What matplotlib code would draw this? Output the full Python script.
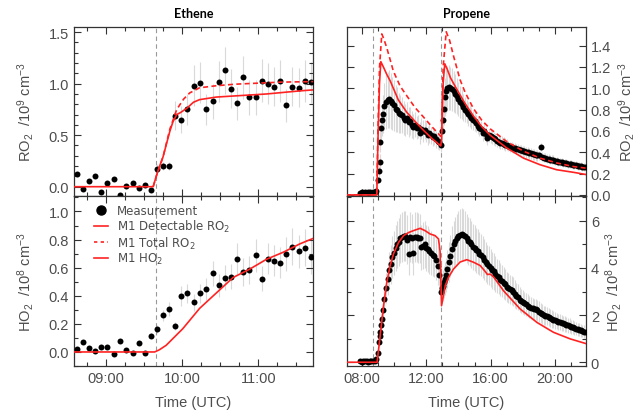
import matplotlib
matplotlib.use("Agg")
import matplotlib.pyplot as plt
from matplotlib.ticker import MultipleLocator, FuncFormatter
from matplotlib.lines import Line2D

plt.rcParams['font.family'] = ['Liberation Sans', 'DejaVu Sans']
plt.rcParams['mathtext.default'] = 'regular'

# ---------------- Ethene (times in decimal hours UTC) ----------------
eth_t = [8.62, 8.70, 8.78, 8.86, 8.94, 9.02, 9.10, 9.18, 9.26, 9.35,
         9.43, 9.51, 9.59, 9.67, 9.75, 9.83, 9.91, 9.99, 10.07, 10.16,
         10.24, 10.32, 10.40, 10.48, 10.56, 10.64, 10.72, 10.80, 10.88, 10.97,
         11.05, 11.13, 11.21, 11.29, 11.37, 11.45, 11.53, 11.61, 11.69]
eth_ro2 = [0.126, -0.02, 0.057, 0.10, -0.05, 0.04, 0.07, -0.085, 0.006, 0.04,
           -0.016, 0.013, -0.03, 0.176, 0.20, 0.20, 0.69, 0.65, 0.75, 0.98,
           1.01, 0.75, 0.83, 1.02, 1.13, 0.95, 0.81, 1.06, 0.87, 0.87,
           1.03, 1.00, 0.97, 1.025, 0.79, 0.97, 0.96, 1.025, 1.015]
eth_ro2_err = [0.01, 0.01, 0.01, 0.01, 0.01, 0.01, 0.01, 0.01, 0.01, 0.01,
               0.01, 0.01, 0.01, 0.04, 0.04, 0.04, 0.14, 0.13, 0.15, 0.20,
               0.20, 0.15, 0.17, 0.20, 0.23, 0.19, 0.16, 0.21, 0.17, 0.17,
               0.21, 0.20, 0.19, 0.20, 0.16, 0.19, 0.19, 0.20, 0.20]
eth_ho2 = [0.02, 0.07, 0.03, 0.007, 0.033, 0.038, -0.017, 0.078, 0.012, -0.01,
           0.062, -0.01, 0.116, 0.163, 0.26, 0.305, 0.185, 0.40, 0.417, 0.353,
           0.417, 0.45, 0.56, 0.474, 0.528, 0.535, 0.664, 0.569, 0.583, 0.687,
           0.521, 0.664, 0.65, 0.635, 0.697, 0.749, 0.716, 0.742, 0.678]
eth_ho2_err = [0.01, 0.01, 0.01, 0.01, 0.01, 0.01, 0.01, 0.01, 0.01, 0.01,
               0.01, 0.01, 0.02, 0.03, 0.04, 0.05, 0.03, 0.07, 0.07, 0.06,
               0.07, 0.08, 0.09, 0.08, 0.09, 0.09, 0.11, 0.10, 0.10, 0.12,
               0.09, 0.11, 0.11, 0.11, 0.12, 0.13, 0.12, 0.13, 0.12]

eth_mod_t = [8.58, 9.62, 9.66, 9.70, 9.75, 9.80, 9.84, 9.88, 9.93, 9.98,
             10.06, 10.15, 10.23, 10.45, 10.67, 11.11, 11.55, 11.73]
eth_mod_ro2 = [0.0, 0.0, 0.10, 0.19, 0.29, 0.43, 0.54, 0.63, 0.70, 0.72,
               0.76, 0.82, 0.845, 0.87, 0.88, 0.90, 0.93, 0.94]
eth_mod_tot_t = [9.62, 9.66, 9.75, 9.84, 9.93, 10.02, 10.10, 10.23, 10.45,
                 10.70, 11.00, 11.30, 11.73]
eth_mod_tot = [0.0, 0.10, 0.29, 0.56, 0.75, 0.85, 0.91, 0.96, 0.98,
               0.995, 1.005, 1.015, 1.02]
eth_mod_ho2_t = [8.58, 9.64, 9.70, 9.79, 10.01, 10.23, 10.41, 10.67, 10.89,
                 11.11, 11.33, 11.55, 11.73]
eth_mod_ho2 = [0.0, 0.0, 0.015, 0.047, 0.166, 0.31, 0.40, 0.53, 0.59,
               0.66, 0.71, 0.77, 0.81]
eth_inject = [9.654]

# ---------------- Propene ----------------
pro_t = [7.9, 8.0, 8.1, 8.2, 8.3, 8.4, 8.5, 8.6, 8.7, 8.8, 8.9,
         9.0, 9.05, 9.1, 9.15, 9.2, 9.25, 9.3,
         9.4, 9.5, 9.6, 9.7, 9.8, 9.9,
         10.0, 10.1, 10.2, 10.3, 10.4, 10.5, 10.6, 10.7, 10.8, 10.9,
         11.0, 11.1, 11.2, 11.3, 11.4, 11.5, 11.6, 11.7, 11.8, 11.9,
         12.0, 12.1, 12.2, 12.3, 12.4, 12.5, 12.6, 12.7, 12.8, 12.9,
         13.0, 13.05, 13.1, 13.15, 13.2,
         13.3, 13.4, 13.5, 13.6, 13.7, 13.8, 13.9,
         14.0, 14.1, 14.2, 14.3, 14.4, 14.5, 14.6, 14.7, 14.8, 14.9,
         15.0, 15.1, 15.2, 15.3, 15.4, 15.5, 15.6, 15.7, 15.8, 15.9,
         16.0, 16.1, 16.2, 16.3, 16.4, 16.5, 16.6, 16.7, 16.8, 16.9,
         17.0, 17.1, 17.2, 17.3, 17.4, 17.5, 17.6, 17.7, 17.8, 17.9,
         18.0, 18.1, 18.2, 18.3, 18.4, 18.5, 18.6, 18.7, 18.8, 18.9,
         19.0, 19.1, 19.2, 19.3, 19.4, 19.5, 19.6, 19.7, 19.8, 19.9,
         20.0, 20.1, 20.2, 20.3, 20.4, 20.5, 20.6, 20.7, 20.8, 20.9,
         21.0, 21.1, 21.2, 21.3, 21.4, 21.5, 21.6, 21.7, 21.8, 21.9]
pro_ro2 = [0.02, 0.03, 0.02, 0.03, 0.02, 0.03, 0.03, 0.02, 0.03, 0.03, 0.04,
           0.14, 0.22, 0.31, 0.50, 0.63, 0.70, 0.76,
           0.83, 0.87, 0.89, 0.90, 0.88, 0.86,
           0.84, 0.81, 0.80, 0.77, 0.76, 0.75, 0.72, 0.70, 0.72, 0.68,
           0.69, 0.66, 0.64, 0.66, 0.63, 0.64, 0.58, 0.62, 0.60, 0.61,
           0.59, 0.56, 0.58, 0.56, 0.54, 0.55, 0.52, 0.51, 0.50, 0.47,
           0.60, 0.70, 0.81, 0.92, 0.97,
           1.00, 1.01, 1.00, 0.99, 0.97, 0.95, 0.93,
           0.90, 0.87, 0.85, 0.82, 0.80, 0.78, 0.76, 0.74, 0.72, 0.70,
           0.69, 0.67, 0.65, 0.63, 0.62, 0.58, 0.60, 0.57, 0.53, 0.56,
           0.55, 0.54, 0.53, 0.52, 0.51, 0.50, 0.49, 0.49, 0.48, 0.47,
           0.47, 0.46, 0.45, 0.45, 0.44, 0.44, 0.43, 0.43, 0.42, 0.42,
           0.41, 0.41, 0.40, 0.40, 0.39, 0.39, 0.38, 0.38, 0.37, 0.37,
           0.37, 0.45, 0.36, 0.35, 0.35, 0.34, 0.34, 0.33, 0.33, 0.33,
           0.32, 0.32, 0.31, 0.31, 0.31, 0.30, 0.30, 0.30, 0.29, 0.29,
           0.29, 0.28, 0.28, 0.28, 0.27, 0.27, 0.27, 0.26, 0.26, 0.26]
pro_ro2_err = [0.0, 0.0, 0.0, 0.0, 0.0, 0.0, 0.0, 0.0, 0.0, 0.0, 0.01,
               0.03, 0.05, 0.07, 0.10, 0.13, 0.15, 0.18,
               0.22, 0.25, 0.26, 0.27, 0.26, 0.25,
               0.24, 0.22, 0.21, 0.19, 0.18, 0.17, 0.16, 0.15, 0.15, 0.14,
               0.13, 0.13, 0.12, 0.12, 0.11, 0.11, 0.10, 0.10, 0.10, 0.09,
               0.09, 0.09, 0.09, 0.08, 0.08, 0.08, 0.08, 0.08, 0.08, 0.07,
               0.10, 0.12, 0.15, 0.18, 0.20,
               0.21, 0.21, 0.20, 0.20, 0.19, 0.18, 0.17,
               0.16, 0.15, 0.14, 0.13, 0.12, 0.11, 0.11, 0.10, 0.10, 0.09,
               0.09, 0.08, 0.08, 0.08, 0.07, 0.07, 0.07, 0.07, 0.06, 0.06,
               0.06, 0.06, 0.06, 0.06, 0.06, 0.06, 0.06, 0.06, 0.06, 0.06,
               0.05, 0.05, 0.05, 0.05, 0.05, 0.05, 0.05, 0.05, 0.05, 0.05,
               0.05, 0.05, 0.05, 0.05, 0.05, 0.05, 0.05, 0.05, 0.05, 0.05,
               0.04, 0.04, 0.04, 0.04, 0.04, 0.04, 0.04, 0.04, 0.04, 0.04,
               0.04, 0.04, 0.04, 0.04, 0.04, 0.04, 0.04, 0.04, 0.04, 0.04,
               0.04, 0.04, 0.04, 0.04, 0.04, 0.04, 0.04, 0.04, 0.04, 0.04]
pro_ho2 = [0.05, 0.03, 0.06, 0.04, 0.05, 0.03, 0.06, 0.05, 0.04, 0.06, 0.12,
           0.40, 0.85, 1.10, 1.30, 1.60, 1.85, 2.20,
           2.70, 3.15, 3.55, 3.90, 4.15, 4.45,
           4.65, 4.85, 5.00, 5.10, 5.25, 5.30, 5.35, 5.35, 5.20, 4.60,
           5.30, 5.25, 4.62, 5.30, 5.30, 5.28, 5.25, 4.87, 4.95, 5.00,
           4.85, 4.80, 4.70, 4.65, 4.55, 4.50, 4.35, 4.10, 3.70, 3.00,
           3.15, 3.25, 3.40, 3.55, 3.70,
           3.95, 4.25, 4.50, 4.80, 5.00, 5.15, 5.25,
           5.35, 5.40, 5.44, 5.40, 5.35, 5.25, 5.15, 5.10, 5.00, 4.90,
           4.85, 4.75, 4.70, 4.60, 4.55, 4.45, 4.35, 4.25, 4.15, 4.10,
           4.00, 3.90, 3.85, 3.75, 3.65, 3.60, 3.50, 3.45, 3.38, 3.30,
           3.20, 3.15, 3.10, 3.05, 3.00, 2.90, 2.80, 2.75, 2.65, 2.60,
           2.55, 2.50, 2.45, 2.40, 2.35, 2.30, 2.28, 2.25, 2.25, 2.20,
           2.15, 2.10, 2.05, 2.00, 1.98, 1.95, 1.90, 1.87, 1.83, 1.80,
           1.78, 1.75, 1.72, 1.70, 1.68, 1.65, 1.62, 1.60, 1.57, 1.55,
           1.50, 1.48, 1.45, 1.42, 1.40, 1.38, 1.35, 1.33, 1.30, 1.28]
pro_ho2_err = [0.0, 0.0, 0.0, 0.0, 0.0, 0.0, 0.0, 0.0, 0.0, 0.0, 0.02,
               0.08, 0.17, 0.22, 0.26, 0.32, 0.37, 0.44,
               0.54, 0.63, 0.71, 0.78, 0.83, 0.89,
               0.93, 0.97, 1.00, 1.02, 1.05, 1.06, 1.07, 1.07, 1.04, 0.92,
               1.06, 1.05, 0.92, 1.06, 1.06, 1.06, 1.05, 0.97, 0.99, 1.00,
               0.97, 0.96, 0.94, 0.93, 0.91, 0.90, 0.87, 0.82, 0.74, 0.60,
               0.63, 0.65, 0.68, 0.71, 0.74,
               0.79, 0.85, 0.90, 0.96, 1.00, 1.03, 1.05,
               1.07, 1.08, 1.09, 1.08, 1.07, 1.05, 1.03, 1.02, 1.00, 0.98,
               0.97, 0.95, 0.94, 0.92, 0.91, 0.89, 0.87, 0.85, 0.83, 0.82,
               0.80, 0.78, 0.77, 0.75, 0.73, 0.72, 0.70, 0.69, 0.68, 0.66,
               0.64, 0.63, 0.62, 0.61, 0.60, 0.58, 0.56, 0.55, 0.53, 0.52,
               0.51, 0.50, 0.49, 0.48, 0.47, 0.46, 0.46, 0.45, 0.45, 0.44,
               0.43, 0.42, 0.41, 0.40, 0.40, 0.39, 0.38, 0.37, 0.37, 0.36,
               0.36, 0.35, 0.34, 0.34, 0.34, 0.33, 0.32, 0.32, 0.31, 0.31,
               0.30, 0.30, 0.29, 0.28, 0.28, 0.28, 0.27, 0.27, 0.26, 0.26]

pro_mod_ro2_t = [7.0, 8.93, 9.0, 9.1, 9.18, 9.34, 9.55, 9.76, 10.27, 10.79,
                 11.3, 11.83, 12.35, 12.9, 12.95, 13.05, 13.15, 13.3, 13.5,
                 13.9, 14.4, 14.93, 15.45, 15.97, 17.0, 18.04, 19.07, 20.1,
                 21.14, 21.97]
pro_mod_ro2 = [0.0, 0.0, 0.50, 1.05, 1.25, 1.20, 1.13, 1.07, 0.89, 0.775,
               0.69, 0.606, 0.53, 0.46, 0.52, 1.05, 1.23, 1.18, 1.10,
               0.99, 0.86, 0.74, 0.64, 0.56, 0.44, 0.345, 0.283, 0.236,
               0.212, 0.19]
pro_mod_tot_t = [7.0, 8.93, 9.0, 9.1, 9.24, 9.35, 9.55, 9.96, 10.38, 10.79,
                 11.3, 11.83, 12.35, 12.9, 12.95, 13.05, 13.24, 13.45, 13.7,
                 14.1, 14.42, 14.93, 15.45, 15.97, 17.0, 18.04, 19.07, 20.1,
                 21.14, 21.97]
pro_mod_tot = [0.0, 0.0, 0.60, 1.20, 1.51, 1.47, 1.38, 1.16, 1.02, 0.93,
               0.82, 0.73, 0.64, 0.55, 0.60, 1.20, 1.53, 1.45, 1.30,
               1.08, 0.96, 0.81, 0.70, 0.62, 0.50, 0.41, 0.345, 0.30,
               0.266, 0.25]
pro_mod_ho2_t = [7.0, 8.95, 9.14, 9.35, 9.55, 9.76, 9.97, 10.28, 10.59, 10.9,
                 11.2, 11.62, 11.93, 12.24, 12.55, 12.76, 12.86, 12.95, 13.18,
                 13.38, 13.69, 14.1, 14.52, 14.94, 15.35, 15.66, 15.8, 15.97,
                 16.18, 16.8, 17.83, 18.87, 19.9, 20.94, 21.97]
pro_mod_ho2 = [0.0, 0.0, 1.13, 2.40, 3.39, 4.10, 4.60, 5.08, 5.37, 5.50,
               5.58, 5.68, 5.58, 5.44, 5.37, 5.23, 4.70, 2.40, 3.25,
               3.60, 3.95, 4.25, 4.35, 4.24, 4.10, 3.85, 3.72, 3.74,
               3.62, 3.03, 2.26, 1.69, 1.27, 0.99, 0.78]
pro_inject = [8.72, 12.93]

TXT = '#4d4d4d'
RED = '#ff2222'
GREY_BAR = '#d9d9d9'


def hhmm(x, pos):
    return '%02d:00' % int(round(x))


def style_axis(ax, xmaj, xmin, ymaj, ymin):
    ax.xaxis.set_major_locator(MultipleLocator(xmaj))
    ax.xaxis.set_minor_locator(MultipleLocator(xmin))
    ax.yaxis.set_major_locator(MultipleLocator(ymaj))
    if ymin:
        ax.yaxis.set_minor_locator(MultipleLocator(ymin))
    ax.xaxis.set_major_formatter(FuncFormatter(hhmm))
    ax.tick_params(which='both', direction='in', top=True, right=True,
                   colors='#333333', labelcolor=TXT, labelsize=10.5)
    ax.tick_params(which='major', length=5, width=0.8)
    ax.tick_params(which='minor', length=3, width=0.8)
    for s in ax.spines.values():
        s.set_color('#333333')
        s.set_linewidth(0.9)


def draw_meas(ax, t, v, e):
    ax.errorbar(t, v, yerr=e, fmt='none', ecolor=GREY_BAR, elinewidth=0.8,
                capsize=0, zorder=1)
    ax.plot(t, v, 'o', color='black', markersize=4.3, markeredgewidth=0,
            zorder=3)


fig = plt.figure(figsize=(6.38, 4.14), dpi=100)
W = 239 / 638
ax1 = fig.add_axes([74 / 638, 0.5242, W, 0.4082])
ax2 = fig.add_axes([74 / 638, 0.1135, W, 0.4106])
ax3 = fig.add_axes([347 / 638, 0.5242, W, 0.4082])
ax4 = fig.add_axes([347 / 638, 0.1135, W, 0.4106])

# Ethene RO2
draw_meas(ax1, eth_t, eth_ro2, eth_ro2_err)
ax1.plot(eth_mod_t, eth_mod_ro2, color=RED, lw=1.2, zorder=4)
ax1.plot(eth_mod_tot_t, eth_mod_tot, color=RED, lw=1.2, ls=(0, (3, 2)), zorder=4)
# Ethene HO2
draw_meas(ax2, eth_t, eth_ho2, eth_ho2_err)
ax2.plot(eth_mod_ho2_t, eth_mod_ho2, color=RED, lw=1.2, zorder=4)
for ax in (ax1, ax2):
    for x in eth_inject:
        ax.axvline(x, color='#999999', lw=0.8, ls=(0, (4, 3)), zorder=0)
    ax.set_xlim(8.58, 11.72)
    style_axis(ax, 1, 0.25, 0.5, 0.1)
ax1.set_ylim(-0.09, 1.55)
ax2.set_ylim(-0.10, 1.11)
ax2.yaxis.set_major_locator(MultipleLocator(0.2))
ax1.yaxis.set_major_formatter(FuncFormatter(lambda y, p: '%.1f' % y))
ax2.yaxis.set_major_formatter(FuncFormatter(lambda y, p: '%.1f' % y))
ax1.tick_params(labelbottom=False)

# Propene RO2
draw_meas(ax3, pro_t, pro_ro2, pro_ro2_err)
ax3.plot(pro_mod_ro2_t, pro_mod_ro2, color=RED, lw=1.2, zorder=4)
ax3.plot(pro_mod_tot_t, pro_mod_tot, color=RED, lw=1.2, ls=(0, (3, 2)), zorder=4)
# Propene HO2
draw_meas(ax4, pro_t, pro_ho2, pro_ho2_err)
ax4.plot(pro_mod_ho2_t, pro_mod_ho2, color=RED, lw=1.2, zorder=4)
for ax in (ax3, ax4):
    for x in pro_inject:
        ax.axvline(x, color='#999999', lw=0.8, ls=(0, (4, 3)), zorder=0)
    ax.set_xlim(7.08, 21.92)
    style_axis(ax, 4, 1, 0.2, None)
    ax.tick_params(labelleft=False, labelright=True)
    ax.yaxis.set_label_position('right')
ax3.set_ylim(-0.01, 1.575)
ax4.set_ylim(-0.16, 7.05)
ax4.yaxis.set_major_locator(MultipleLocator(2))
ax4.yaxis.set_minor_locator(MultipleLocator(1))
ax3.yaxis.set_major_formatter(FuncFormatter(lambda y, p: '%.1f' % y))
ax4.yaxis.set_major_formatter(FuncFormatter(lambda y, p: '%d' % round(y)))
ax3.tick_params(labelbottom=False)

# labels
ax1.set_ylabel('RO$_2$  /10$^9$ cm$^{-3}$', color=TXT, fontsize=10.5, labelpad=9)
ax2.set_ylabel('HO$_2$  /10$^8$ cm$^{-3}$', color=TXT, fontsize=10.5, labelpad=9)
ax3.set_ylabel('RO$_2$  /10$^9$ cm$^{-3}$', color=TXT, fontsize=10.5, labelpad=3)
ax4.set_ylabel('HO$_2$  /10$^8$ cm$^{-3}$', color=TXT, fontsize=10.5, labelpad=3)
for ax in (ax2, ax4):
    ax.set_xlabel('Time (UTC)', color=TXT, fontsize=10.5, labelpad=7)
ax1.set_title('Ethene', fontsize=9, fontweight='bold', family=['Lato', 'DejaVu Sans'], pad=7)
ax3.set_title('Propene', fontsize=9, fontweight='bold', family=['Lato', 'DejaVu Sans'], pad=7)

handles = [
    Line2D([], [], ls='none', marker='o', color='black', markersize=6.5),
    Line2D([], [], color=RED, lw=1.2),
    Line2D([], [], color=RED, lw=1.2, ls=(0, (2, 2))),
    Line2D([], [], color=RED, lw=1.2),
]
labels = ['Measurement', 'M1 Detectable RO$_2$', 'M1 Total RO$_2$', 'M1 HO$_2$']
leg = ax2.legend(handles, labels, loc='upper left', frameon=False,
                 prop={'family': 'DejaVu Sans', 'size': 8.5},
                 handlelength=1.2, handletextpad=0.7, labelspacing=0.05,
                 borderaxespad=0.3, bbox_to_anchor=(0.05, 1.0))
for txt in leg.get_texts():
    txt.set_color(TXT)

fig.savefig('out.png', dpi=100)
